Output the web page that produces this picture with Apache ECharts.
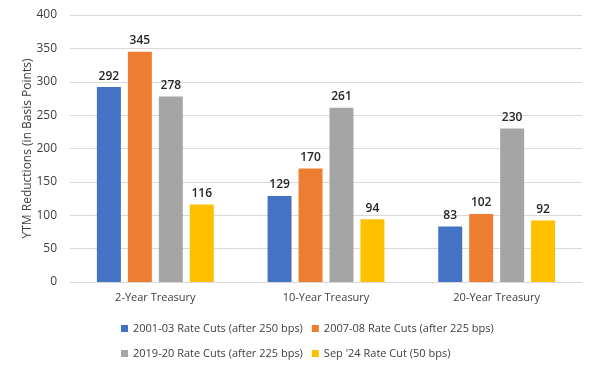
<!DOCTYPE html>
<html><head><meta charset="utf-8">
<script src="https://cdn.jsdelivr.net/npm/echarts@6/dist/echarts.min.js"></script>
<style>html,body{margin:0;padding:0;background:#fff}#c{width:600px;height:367px}</style>
</head><body><div id="c"></div>
<script>
var categories = ['2-Year Treasury', '10-Year Treasury', '20-Year Treasury'];
var seriesNames = ['2001-03 Rate Cuts (after 250 bps)', '2007-08 Rate Cuts (after 225 bps)', '2019-20 Rate Cuts (after 225 bps)', "Sep '24 Rate Cut (50 bps)"];
var s2001 = [292, 129, 83];
var s2007 = [345, 170, 102];
var s2019 = [278, 261, 230];
var s2024 = [116, 94, 92];
var colors = ['#4472C4', '#ED7D31', '#A5A5A5', '#FFC000'];
var yTicks = [0, 400, 50];

var font = 'Open Sans';
var values = [s2001, s2007, s2019, s2024];
var series = values.map(function (v, i) {
  return {
    name: seriesNames[i], type: 'bar', data: v, barWidth: 24, barGap: '29%',
    itemStyle: { color: colors[i] },
    label: { show: true, position: 'top', distance: 5, fontFamily: font, fontSize: 12, fontWeight: 600, color: '#262626' }
  };
});
var legendStyle = { fontFamily: font, fontSize: 11, color: '#404040' };
var chart = echarts.init(document.getElementById('c'));
chart.setOption({
  animation: false,
  grid: { left: 70, right: 18, top: 15, bottom: 85 },
  legend: [
    { data: [seriesNames[0], seriesNames[1]], left: 116, top: 318, icon: 'rect', itemWidth: 7, itemHeight: 7, itemGap: 9, textStyle: legendStyle },
    { data: [seriesNames[2], seriesNames[3]], left: 116, top: 343, icon: 'rect', itemWidth: 7, itemHeight: 7, itemGap: 9, textStyle: legendStyle }
  ],
  xAxis: {
    type: 'category', data: categories,
    axisLine: { lineStyle: { color: '#d9d9d9' } }, axisTick: { show: false },
    axisLabel: { fontFamily: font, fontSize: 11, color: '#404040', margin: 10 }
  },
  yAxis: {
    type: 'value', min: yTicks[0], max: yTicks[1], interval: yTicks[2],
    name: 'YTM Reductions (in Basis Points)', nameLocation: 'middle', nameGap: 36, nameMoveOverlap: false,
    nameTextStyle: { fontFamily: font, fontSize: 12, color: '#404040' },
    axisLine: { show: false }, axisTick: { show: false },
    axisLabel: { fontFamily: font, fontSize: 12, color: '#404040', margin: 13 },
    splitLine: { lineStyle: { color: '#d9d9d9' } }
  },
  series: series
});
</script></body></html>
